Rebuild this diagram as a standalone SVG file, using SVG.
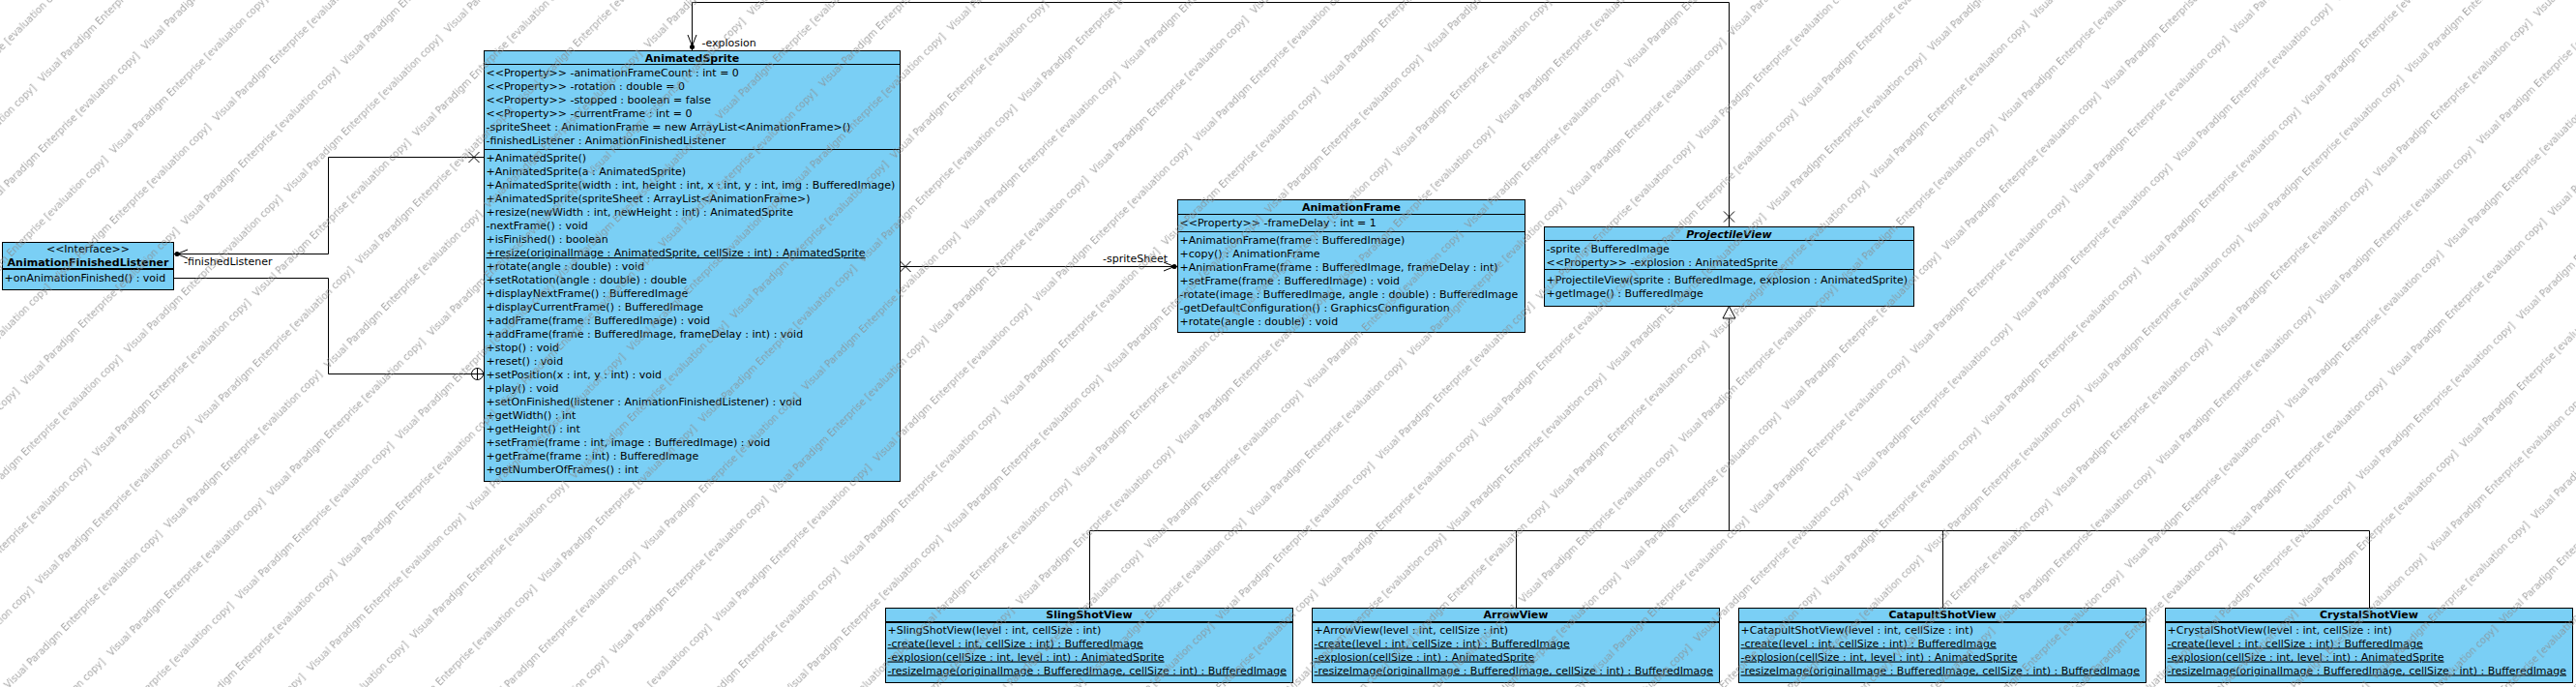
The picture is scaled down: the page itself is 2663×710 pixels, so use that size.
<svg xmlns="http://www.w3.org/2000/svg" width="2663" height="710" viewBox="0 0 2663 710">
<style>
text{font-family:"DejaVu Sans","Liberation Sans",sans-serif;font-size:11px;fill:#000}
.box{fill:#7ACFF5;stroke:#000;stroke-width:1}
.sep{stroke:#000;stroke-width:1;fill:none}
.t{font-weight:bold;text-anchor:middle}
.ti{font-weight:bold;font-style:italic;text-anchor:middle}
.c{text-anchor:middle}
.u{text-decoration:underline}
.ln{fill:none;stroke:#000;stroke-width:1}
.wm{font-size:10px;fill:#8a8a8a}
</style>
<defs>
<pattern id="wm" patternUnits="userSpaceOnUse" x="0" y="0" width="234" height="104.5" patternTransform="rotate(-45)">
<text class="wm" x="204.6" y="91.5">Visual Paradigm Enterprise [evaluation copy]</text>
<text class="wm" x="-29.4" y="91.5">Visual Paradigm Enterprise [evaluation copy]</text>
<text class="wm" x="69.6" y="39.25">Visual Paradigm Enterprise [evaluation copy]</text>
<text class="wm" x="-164.4" y="39.25">Visual Paradigm Enterprise [evaluation copy]</text>
</pattern>
</defs>
<rect width="2663" height="710" fill="#fff"/>

<g id="connectors">
<!-- explosion association -->
<polyline class="ln" points="1787.5,234.5 1787.5,2.5 715.5,2.5 715.5,52.5"/>
<path class="ln" d="M1782,218.5 L1793,229.5 M1793,218.5 L1782,229.5"/>
<path class="ln" d="M711,36 L715.5,47.5 L720,36"/>
<circle cx="715.5" cy="48.5" r="2.5" fill="#000"/>
<text x="725.5" y="47.5">-explosion</text>
<!-- spriteSheet association -->
<line class="ln" x1="930.5" y1="275.5" x2="1217.5" y2="275.5"/>
<path class="ln" d="M930.5,270 L941.5,281 M941.5,270 L930.5,281"/>
<path class="ln" d="M1203,271 L1214,275.5 L1203,280"/>
<circle cx="1214" cy="275.5" r="2.5" fill="#000"/>
<text x="1140" y="270.5">-spriteSheet</text>
<!-- finishedListener association -->
<polyline class="ln" points="500.5,162.5 339.5,162.5 339.5,262.5 179.5,262.5"/>
<path class="ln" d="M484.5,157 L495.5,168 M495.5,157 L484.5,168"/>
<path class="ln" d="M194,258 L183,262.5 L194,267"/>
<circle cx="183" cy="262.5" r="2.5" fill="#000"/>
<text x="190" y="273.5">-finishedListener</text>
<!-- containment -->
<polyline class="ln" points="179.5,287.5 339.5,287.5 339.5,386.5 487.5,386.5"/>
<circle class="ln" cx="493.5" cy="386.5" r="6"/>
<path class="ln" d="M487.5,386.5 L499.5,386.5 M493.5,380.5 L493.5,392.5"/>
<!-- generalization -->
<polyline class="ln" points="1787.5,329 1787.5,548.5"/>
<line class="ln" x1="1126.5" y1="548.5" x2="2449.5" y2="548.5"/>
<line class="ln" x1="1126.5" y1="548.5" x2="1126.5" y2="628.5"/>
<line class="ln" x1="1567.5" y1="548.5" x2="1567.5" y2="628.5"/>
<line class="ln" x1="2008.5" y1="548.5" x2="2008.5" y2="628.5"/>
<line class="ln" x1="2449.5" y1="548.5" x2="2449.5" y2="628.5"/>
<polygon points="1787.5,316.5 1781,329 1794,329" fill="#fff" stroke="#000" stroke-width="1"/>
</g>

<g id="AnimationFinishedListener">
<rect class="box" x="2.5" y="250.5" width="177" height="49"/>
<text class="c" x="91" y="260.5">&lt;&lt;Interface&gt;&gt;</text>
<text class="t" x="91" y="274.5">AnimationFinishedListener</text>
<path class="sep" d="M2.5,277.5 H179.5 M2.5,278.5 H179.5"/>
<text x="4.5" y="290.5">+onAnimationFinished() : void</text>
</g>

<g id="AnimatedSprite">
<rect class="box" x="500.5" y="52.5" width="430" height="445"/>
<text class="t" x="715.5" y="63.5">AnimatedSprite</text>
<path class="sep" d="M500.5,66.5 H930.5 M500.5,154.5 H930.5"/>
<text x="502.5" y="79">&lt;&lt;Property&gt;&gt; -animationFrameCount : int = 0</text>
<text x="502.5" y="93">&lt;&lt;Property&gt;&gt; -rotation : double = 0</text>
<text x="502.5" y="107">&lt;&lt;Property&gt;&gt; -stopped : boolean = false</text>
<text x="502.5" y="121">&lt;&lt;Property&gt;&gt; -currentFrame : int = 0</text>
<text x="502.5" y="135">-spriteSheet : AnimationFrame = new ArrayList&lt;AnimationFrame&gt;()</text>
<text x="502.5" y="149">-finishedListener : AnimationFinishedListener</text>
<text x="502.5" y="167">+AnimatedSprite()</text>
<text x="502.5" y="181">+AnimatedSprite(a : AnimatedSprite)</text>
<text x="502.5" y="195">+AnimatedSprite(width : int, height : int, x : int, y : int, img : BufferedImage)</text>
<text x="502.5" y="209">+AnimatedSprite(spriteSheet : ArrayList&lt;AnimationFrame&gt;)</text>
<text x="502.5" y="223">+resize(newWidth : int, newHeight : int) : AnimatedSprite</text>
<text x="502.5" y="237">-nextFrame() : void</text>
<text x="502.5" y="251">+isFinished() : boolean</text>
<text class="u" x="502.5" y="265">+resize(originalImage : AnimatedSprite, cellSize : int) : AnimatedSprite</text>
<text x="502.5" y="279">+rotate(angle : double) : void</text>
<text x="502.5" y="293">+setRotation(angle : double) : double</text>
<text x="502.5" y="307">+displayNextFrame() : BufferedImage</text>
<text x="502.5" y="321">+displayCurrentFrame() : BufferedImage</text>
<text x="502.5" y="335">+addFrame(frame : BufferedImage) : void</text>
<text x="502.5" y="349">+addFrame(frame : BufferedImage, frameDelay : int) : void</text>
<text x="502.5" y="363">+stop() : void</text>
<text x="502.5" y="377">+reset() : void</text>
<text x="502.5" y="391">+setPosition(x : int, y : int) : void</text>
<text x="502.5" y="405">+play() : void</text>
<text x="502.5" y="419">+setOnFinished(listener : AnimationFinishedListener) : void</text>
<text x="502.5" y="433">+getWidth() : int</text>
<text x="502.5" y="447">+getHeight() : int</text>
<text x="502.5" y="461">+setFrame(frame : int, image : BufferedImage) : void</text>
<text x="502.5" y="475">+getFrame(frame : int) : BufferedImage</text>
<text x="502.5" y="489">+getNumberOfFrames() : int</text>
</g>

<g id="AnimationFrame">
<rect class="box" x="1217.5" y="206.5" width="359" height="137"/>
<text class="t" x="1397" y="218">AnimationFrame</text>
<path class="sep" d="M1217.5,221.5 H1576.5 M1217.5,239.5 H1576.5"/>
<text x="1219.5" y="234">&lt;&lt;Property&gt;&gt; -frameDelay : int = 1</text>
<text x="1219.5" y="251.5">+AnimationFrame(frame : BufferedImage)</text>
<text x="1219.5" y="265.5">+copy() : AnimationFrame</text>
<text x="1219.5" y="279.5">+AnimationFrame(frame : BufferedImage, frameDelay : int)</text>
<text x="1219.5" y="293.5">+setFrame(frame : BufferedImage) : void</text>
<text x="1219.5" y="307.5">-rotate(image : BufferedImage, angle : double) : BufferedImage</text>
<text x="1219.5" y="321.5">-getDefaultConfiguration() : GraphicsConfiguration</text>
<text x="1219.5" y="335.5">+rotate(angle : double) : void</text>
</g>

<g id="ProjectileView">
<rect class="box" x="1596.5" y="234.5" width="382" height="82"/>
<text class="ti" x="1787.5" y="245.5">ProjectileView</text>
<path class="sep" d="M1596.5,248.5 H1978.5 M1596.5,278.5 H1978.5"/>
<text x="1598.5" y="261">-sprite : BufferedImage</text>
<text x="1598.5" y="275">&lt;&lt;Property&gt;&gt; -explosion : AnimatedSprite</text>
<text x="1598.5" y="292.5">+ProjectileView(sprite : BufferedImage, explosion : AnimatedSprite)</text>
<text x="1598.5" y="306.5">+getImage() : BufferedImage</text>
</g>

<g id="SlingShotView">
<rect class="box" x="915.5" y="628.5" width="421" height="77"/>
<text class="t" x="1126" y="638.5">SlingShotView</text>
<path class="sep" d="M915.5,642.5 H1336.5 M915.5,643.5 H1336.5"/>
<text x="917.5" y="654.5">+SlingShotView(level : int, cellSize : int)</text>
<text class="u" x="917.5" y="668.5">-create(level : int, cellSize : int) : BufferedImage</text>
<text class="u" x="917.5" y="682.5">-explosion(cellSize : int, level : int) : AnimatedSprite</text>
<text class="u" x="917.5" y="696.5">-resizeImage(originalImage : BufferedImage, cellSize : int) : BufferedImage</text>
</g>

<g id="ArrowView">
<rect class="box" x="1356.5" y="628.5" width="421" height="77"/>
<text class="t" x="1567" y="638.5">ArrowView</text>
<path class="sep" d="M1356.5,642.5 H1777.5 M1356.5,643.5 H1777.5"/>
<text x="1358.5" y="654.5">+ArrowView(level : int, cellSize : int)</text>
<text class="u" x="1358.5" y="668.5">-create(level : int, cellSize : int) : BufferedImage</text>
<text class="u" x="1358.5" y="682.5">-explosion(cellSize : int) : AnimatedSprite</text>
<text class="u" x="1358.5" y="696.5">-resizeImage(originalImage : BufferedImage, cellSize : int) : BufferedImage</text>
</g>

<g id="CatapultShotView">
<rect class="box" x="1797.5" y="628.5" width="421" height="77"/>
<text class="t" x="2008" y="638.5">CatapultShotView</text>
<path class="sep" d="M1797.5,642.5 H2218.5 M1797.5,643.5 H2218.5"/>
<text x="1799.5" y="654.5">+CatapultShotView(level : int, cellSize : int)</text>
<text class="u" x="1799.5" y="668.5">-create(level : int, cellSize : int) : BufferedImage</text>
<text class="u" x="1799.5" y="682.5">-explosion(cellSize : int, level : int) : AnimatedSprite</text>
<text class="u" x="1799.5" y="696.5">-resizeImage(originalImage : BufferedImage, cellSize : int) : BufferedImage</text>
</g>

<g id="CrystalShotView">
<rect class="box" x="2238.5" y="628.5" width="421" height="77"/>
<text class="t" x="2449" y="638.5">CrystalShotView</text>
<path class="sep" d="M2238.5,642.5 H2659.5 M2238.5,643.5 H2659.5"/>
<text x="2240.5" y="654.5">+CrystalShotView(level : int, cellSize : int)</text>
<text class="u" x="2240.5" y="668.5">-create(level : int, cellSize : int) : BufferedImage</text>
<text class="u" x="2240.5" y="682.5">-explosion(cellSize : int, level : int) : AnimatedSprite</text>
<text class="u" x="2240.5" y="696.5">-resizeImage(originalImage : BufferedImage, cellSize : int) : BufferedImage</text>
</g>

<g id="watermark" opacity="0.75">
<rect width="2663" height="710" fill="url(#wm)"/>
</g>
</svg>
